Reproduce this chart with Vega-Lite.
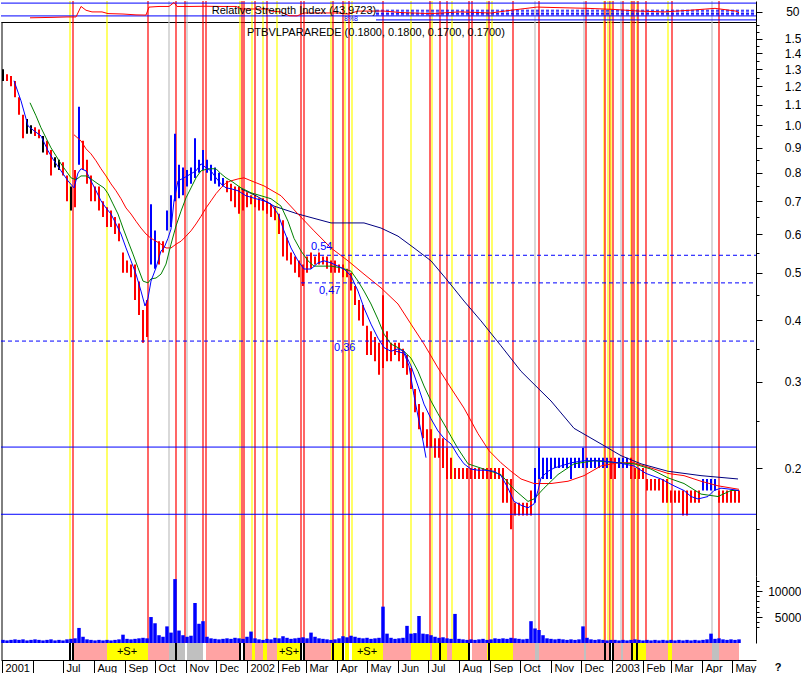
{
"$schema":"https://vega.github.io/schema/vega-lite/v6.json",
"padding":0,
"background":"white",
"spacing":0,
"bounds":"flush",
"resolve":{"scale":{"color":"independent","strokeDash":"independent"}},
"config":{"view":{"stroke":null},"font":"Liberation Sans","axis":{"labelFont":"Liberation Sans","labelColor":"black","domainColor":"black","tickColor":"black","grid":false,"title":null}},
"datasets":{
"px":[
{"d":"2001-05-02","h":1.30,"l":1.23,"c":"n","v":600},{"d":"2001-05-06","h":1.27,"l":1.23,"c":"d","v":500},{"d":"2001-05-10","h":1.26,"l":1.20,"c":"d","v":600},{"d":"2001-05-14","h":1.23,"l":1.14,"c":"d","v":700},{"d":"2001-05-18","h":1.14,"l":1.05,"c":"d","v":600},{"d":"2001-05-22","h":1.05,"l":0.94,"c":"d","v":700},{"d":"2001-05-26","h":1.03,"l":0.96,"c":"n","v":500},{"d":"2001-05-30","h":1.00,"l":0.96,"c":"n","v":600},{"d":"2001-06-03","h":0.99,"l":0.95,"c":"d","v":700},{"d":"2001-06-07","h":0.98,"l":0.94,"c":"d","v":600},{"d":"2001-06-11","h":0.95,"l":0.88,"c":"n","v":500},{"d":"2001-06-15","h":0.93,"l":0.87,"c":"d","v":600},{"d":"2001-06-19","h":0.89,"l":0.79,"c":"d","v":700},{"d":"2001-06-23","h":0.86,"l":0.82,"c":"n","v":500},{"d":"2001-06-27","h":0.85,"l":0.81,"c":"n","v":600},{"d":"2001-07-01","h":0.84,"l":0.79,"c":"d","v":500},{"d":"2001-07-05","h":0.79,"l":0.70,"c":"d","v":700},{"d":"2001-07-09","h":0.75,"l":0.67,"c":"n","v":800},{"d":"2001-07-13","h":0.81,"l":0.68,"c":"d","v":900},{"d":"2001-07-17","h":1.09,"l":0.83,"c":"u","v":2900},{"d":"2001-07-21","h":0.93,"l":0.81,"c":"d","v":1200},{"d":"2001-07-25","h":0.85,"l":0.76,"c":"d","v":700},{"d":"2001-07-29","h":0.79,"l":0.70,"c":"d","v":600},{"d":"2001-08-02","h":0.75,"l":0.70,"c":"d","v":500},{"d":"2001-08-06","h":0.75,"l":0.67,"c":"d","v":600},{"d":"2001-08-10","h":0.70,"l":0.65,"c":"d","v":500},{"d":"2001-08-14","h":0.68,"l":0.62,"c":"d","v":600},{"d":"2001-08-18","h":0.67,"l":0.62,"c":"d","v":500},{"d":"2001-08-22","h":0.65,"l":0.60,"c":"d","v":600},{"d":"2001-08-26","h":0.63,"l":0.58,"c":"d","v":700},{"d":"2001-08-30","h":0.55,"l":0.50,"c":"d","v":1600},{"d":"2001-09-03","h":0.53,"l":0.50,"c":"d","v":800},{"d":"2001-09-07","h":0.52,"l":0.49,"c":"d","v":700},{"d":"2001-09-11","h":0.52,"l":0.44,"c":"d","v":800},{"d":"2001-09-15","h":0.48,"l":0.41,"c":"d","v":900},{"d":"2001-09-19","h":0.42,"l":0.36,"c":"d","v":1000},{"d":"2001-09-23","h":0.44,"l":0.37,"c":"d","v":900},{"d":"2001-09-27","h":0.69,"l":0.52,"c":"u","v":5000},{"d":"2001-10-01","h":0.61,"l":0.51,"c":"u","v":3800},{"d":"2001-10-05","h":0.58,"l":0.52,"c":"d","v":1500},{"d":"2001-10-09","h":0.58,"l":0.55,"c":"d","v":1200},{"d":"2001-10-13","h":0.67,"l":0.61,"c":"u","v":3200},{"d":"2001-10-17","h":0.72,"l":0.62,"c":"u","v":2000},{"d":"2001-10-21","h":0.96,"l":0.70,"c":"u","v":12300},{"d":"2001-10-25","h":0.83,"l":0.71,"c":"u","v":2400},{"d":"2001-10-29","h":0.82,"l":0.72,"c":"u","v":1500},{"d":"2001-11-02","h":0.81,"l":0.75,"c":"u","v":1200},{"d":"2001-11-06","h":0.82,"l":0.76,"c":"u","v":1400},{"d":"2001-11-10","h":0.94,"l":0.78,"c":"u","v":7700},{"d":"2001-11-14","h":0.85,"l":0.80,"c":"u","v":3700},{"d":"2001-11-18","h":0.89,"l":0.81,"c":"u","v":4200},{"d":"2001-11-22","h":0.85,"l":0.80,"c":"u","v":1200},{"d":"2001-11-26","h":0.83,"l":0.77,"c":"u","v":900},{"d":"2001-11-30","h":0.82,"l":0.76,"c":"u","v":800},{"d":"2001-12-04","h":0.80,"l":0.75,"c":"u","v":700},{"d":"2001-12-08","h":0.78,"l":0.75,"c":"u","v":800},{"d":"2001-12-12","h":0.77,"l":0.73,"c":"d","v":900},{"d":"2001-12-16","h":0.76,"l":0.70,"c":"d","v":800},{"d":"2001-12-20","h":0.75,"l":0.68,"c":"d","v":1000},{"d":"2001-12-24","h":0.75,"l":0.66,"c":"d","v":900},{"d":"2001-12-28","h":0.74,"l":0.67,"c":"d","v":800},{"d":"2002-01-01","h":0.73,"l":0.68,"c":"d","v":1200},{"d":"2002-01-05","h":0.72,"l":0.69,"c":"d","v":2200},{"d":"2002-01-09","h":0.72,"l":0.68,"c":"d","v":900},{"d":"2002-01-13","h":0.71,"l":0.67,"c":"d","v":700},{"d":"2002-01-17","h":0.71,"l":0.67,"c":"d","v":600},{"d":"2002-01-21","h":0.70,"l":0.66,"c":"d","v":800},{"d":"2002-01-25","h":0.69,"l":0.65,"c":"d","v":700},{"d":"2002-01-29","h":0.68,"l":0.64,"c":"d","v":1000},{"d":"2002-02-02","h":0.66,"l":0.60,"c":"d","v":900},{"d":"2002-02-06","h":0.64,"l":0.54,"c":"d","v":1300},{"d":"2002-02-10","h":0.59,"l":0.53,"c":"d","v":1000},{"d":"2002-02-14","h":0.55,"l":0.52,"c":"d","v":800},{"d":"2002-02-18","h":0.54,"l":0.50,"c":"d","v":900},{"d":"2002-02-22","h":0.53,"l":0.49,"c":"d","v":1000},{"d":"2002-02-26","h":0.52,"l":0.47,"c":"d","v":1100},{"d":"2002-03-02","h":0.54,"l":0.50,"c":"d","v":900},{"d":"2002-03-06","h":0.55,"l":0.51,"c":"d","v":2000},{"d":"2002-03-10","h":0.54,"l":0.52,"c":"d","v":1200},{"d":"2002-03-14","h":0.55,"l":0.52,"c":"d","v":900},{"d":"2002-03-18","h":0.54,"l":0.52,"c":"d","v":800},{"d":"2002-03-22","h":0.54,"l":0.51,"c":"d","v":700},{"d":"2002-03-26","h":0.53,"l":0.50,"c":"d","v":600},{"d":"2002-03-30","h":0.53,"l":0.50,"c":"d","v":700},{"d":"2002-04-03","h":0.52,"l":0.50,"c":"d","v":900},{"d":"2002-04-07","h":0.52,"l":0.49,"c":"d","v":1300},{"d":"2002-04-11","h":0.51,"l":0.49,"c":"d","v":1100},{"d":"2002-04-15","h":0.50,"l":0.46,"c":"d","v":1400},{"d":"2002-04-19","h":0.47,"l":0.43,"c":"d","v":1200},{"d":"2002-04-23","h":0.44,"l":0.40,"c":"d","v":1000},{"d":"2002-04-27","h":0.43,"l":0.39,"c":"d","v":900},{"d":"2002-05-01","h":0.39,"l":0.34,"c":"d","v":1000},{"d":"2002-05-05","h":0.38,"l":0.34,"c":"d","v":800},{"d":"2002-05-09","h":0.37,"l":0.33,"c":"d","v":900},{"d":"2002-05-13","h":0.36,"l":0.31,"c":"d","v":1000},{"d":"2002-05-17","h":0.45,"l":0.32,"c":"d","v":7000},{"d":"2002-05-21","h":0.38,"l":0.33,"c":"d","v":1800},{"d":"2002-05-25","h":0.36,"l":0.33,"c":"d","v":1000},{"d":"2002-05-29","h":0.36,"l":0.34,"c":"d","v":800},{"d":"2002-06-02","h":0.36,"l":0.33,"c":"d","v":900},{"d":"2002-06-06","h":0.35,"l":0.32,"c":"d","v":1000},{"d":"2002-06-10","h":0.34,"l":0.31,"c":"d","v":3300},{"d":"2002-06-14","h":0.32,"l":0.29,"c":"d","v":1800},{"d":"2002-06-18","h":0.29,"l":0.26,"c":"d","v":1900},{"d":"2002-06-22","h":0.27,"l":0.24,"c":"d","v":5200},{"d":"2002-06-26","h":0.26,"l":0.23,"c":"d","v":1800},{"d":"2002-06-30","h":0.24,"l":0.22,"c":"d","v":1700},{"d":"2002-07-04","h":0.24,"l":0.22,"c":"d","v":1500},{"d":"2002-07-08","h":0.23,"l":0.21,"c":"d","v":1200},{"d":"2002-07-12","h":0.23,"l":0.21,"c":"d","v":1000},{"d":"2002-07-16","h":0.23,"l":0.20,"c":"d","v":1100},{"d":"2002-07-20","h":0.22,"l":0.19,"c":"d","v":900},{"d":"2002-07-24","h":0.21,"l":0.19,"c":"d","v":800},{"d":"2002-07-28","h":0.20,"l":0.19,"c":"d","v":5600},{"d":"2002-08-01","h":0.20,"l":0.19,"c":"d","v":800},{"d":"2002-08-05","h":0.20,"l":0.19,"c":"d","v":700},{"d":"2002-08-09","h":0.20,"l":0.19,"c":"d","v":600},{"d":"2002-08-13","h":0.20,"l":0.19,"c":"d","v":700},{"d":"2002-08-17","h":0.20,"l":0.19,"c":"d","v":600},{"d":"2002-08-21","h":0.20,"l":0.19,"c":"d","v":700},{"d":"2002-08-25","h":0.20,"l":0.19,"c":"d","v":800},{"d":"2002-08-29","h":0.20,"l":0.19,"c":"d","v":600},{"d":"2002-09-02","h":0.20,"l":0.19,"c":"d","v":700},{"d":"2002-09-06","h":0.20,"l":0.19,"c":"d","v":900},{"d":"2002-09-10","h":0.20,"l":0.19,"c":"d","v":800},{"d":"2002-09-14","h":0.20,"l":0.17,"c":"d","v":900},{"d":"2002-09-18","h":0.19,"l":0.17,"c":"d","v":800},{"d":"2002-09-22","h":0.19,"l":0.15,"c":"d","v":1000},{"d":"2002-09-26","h":0.17,"l":0.16,"c":"d","v":900},{"d":"2002-09-30","h":0.17,"l":0.16,"c":"d","v":800},{"d":"2002-10-04","h":0.17,"l":0.16,"c":"d","v":700},{"d":"2002-10-08","h":0.17,"l":0.16,"c":"d","v":800},{"d":"2002-10-12","h":0.18,"l":0.16,"c":"d","v":4200},{"d":"2002-10-16","h":0.20,"l":0.17,"c":"u","v":2800},{"d":"2002-10-20","h":0.22,"l":0.19,"c":"u","v":2500},{"d":"2002-10-24","h":0.21,"l":0.19,"c":"u","v":1500},{"d":"2002-10-28","h":0.21,"l":0.19,"c":"u","v":900},{"d":"2002-11-01","h":0.21,"l":0.19,"c":"u","v":800},{"d":"2002-11-05","h":0.21,"l":0.20,"c":"u","v":700},{"d":"2002-11-09","h":0.21,"l":0.20,"c":"u","v":800},{"d":"2002-11-13","h":0.21,"l":0.20,"c":"u","v":700},{"d":"2002-11-17","h":0.21,"l":0.20,"c":"u","v":600},{"d":"2002-11-21","h":0.21,"l":0.19,"c":"u","v":700},{"d":"2002-11-25","h":0.21,"l":0.20,"c":"u","v":600},{"d":"2002-11-29","h":0.21,"l":0.20,"c":"u","v":700},{"d":"2002-12-03","h":0.22,"l":0.20,"c":"u","v":3200},{"d":"2002-12-07","h":0.21,"l":0.20,"c":"u","v":1000},{"d":"2002-12-11","h":0.21,"l":0.20,"c":"u","v":700},{"d":"2002-12-15","h":0.21,"l":0.20,"c":"u","v":600},{"d":"2002-12-19","h":0.21,"l":0.20,"c":"u","v":700},{"d":"2002-12-23","h":0.21,"l":0.20,"c":"u","v":600},{"d":"2002-12-27","h":0.21,"l":0.20,"c":"u","v":500},{"d":"2002-12-31","h":0.21,"l":0.19,"c":"d","v":600},{"d":"2003-01-04","h":0.21,"l":0.19,"c":"d","v":600},{"d":"2003-01-08","h":0.21,"l":0.20,"c":"u","v":500},{"d":"2003-01-12","h":0.21,"l":0.20,"c":"u","v":600},{"d":"2003-01-16","h":0.21,"l":0.20,"c":"u","v":500},{"d":"2003-01-20","h":0.21,"l":0.19,"c":"d","v":600},{"d":"2003-01-24","h":0.20,"l":0.19,"c":"d","v":700},{"d":"2003-01-28","h":0.20,"l":0.19,"c":"d","v":600},{"d":"2003-02-01","h":0.20,"l":0.19,"c":"d","v":500},{"d":"2003-02-05","h":0.19,"l":0.18,"c":"d","v":600},{"d":"2003-02-09","h":0.19,"l":0.18,"c":"d","v":500},{"d":"2003-02-13","h":0.19,"l":0.18,"c":"d","v":600},{"d":"2003-02-17","h":0.19,"l":0.18,"c":"d","v":500},{"d":"2003-02-21","h":0.19,"l":0.17,"c":"d","v":600},{"d":"2003-02-25","h":0.19,"l":0.17,"c":"d","v":500},{"d":"2003-03-01","h":0.18,"l":0.17,"c":"d","v":600},{"d":"2003-03-05","h":0.18,"l":0.17,"c":"d","v":500},{"d":"2003-03-09","h":0.18,"l":0.17,"c":"d","v":600},{"d":"2003-03-13","h":0.18,"l":0.16,"c":"d","v":500},{"d":"2003-03-17","h":0.18,"l":0.16,"c":"d","v":600},{"d":"2003-03-21","h":0.18,"l":0.17,"c":"d","v":500},{"d":"2003-03-25","h":0.18,"l":0.17,"c":"d","v":600},{"d":"2003-03-29","h":0.18,"l":0.17,"c":"d","v":500},{"d":"2003-04-02","h":0.19,"l":0.18,"c":"u","v":600},{"d":"2003-04-06","h":0.19,"l":0.18,"c":"u","v":700},{"d":"2003-04-10","h":0.19,"l":0.18,"c":"u","v":1800},{"d":"2003-04-14","h":0.19,"l":0.18,"c":"u","v":800},{"d":"2003-04-18","h":0.18,"l":0.17,"c":"d","v":900},{"d":"2003-04-22","h":0.18,"l":0.17,"c":"d","v":700},{"d":"2003-04-26","h":0.18,"l":0.17,"c":"d","v":600},{"d":"2003-04-30","h":0.18,"l":0.17,"c":"d","v":700},{"d":"2003-05-04","h":0.18,"l":0.17,"c":"d","v":600},{"d":"2003-05-08","h":0.18,"l":0.17,"c":"d","v":700}
],
"ma":[
{"d":"2001-12-26","p":0.742,"s":"MA200"},{"d":"2002-01-10","p":0.718,"s":"MA200"},{"d":"2002-01-28","p":0.684,"s":"MA200"},{"d":"2002-02-21","p":0.659,"s":"MA200"},{"d":"2002-03-26","p":0.632,"s":"MA200"},{"d":"2002-04-28","p":0.632,"s":"MA200"},{"d":"2002-05-15","p":0.617,"s":"MA200"},{"d":"2002-06-01","p":0.594,"s":"MA200"},{"d":"2002-06-17","p":0.562,"s":"MA200"},{"d":"2002-07-04","p":0.529,"s":"MA200"},{"d":"2002-07-21","p":0.481,"s":"MA200"},{"d":"2002-08-06","p":0.438,"s":"MA200"},{"d":"2002-08-23","p":0.399,"s":"MA200"},{"d":"2002-09-12","p":0.355,"s":"MA200"},{"d":"2002-10-02","p":0.315,"s":"MA200"},{"d":"2002-10-22","p":0.287,"s":"MA200"},{"d":"2002-11-01","p":0.274,"s":"MA200"},{"d":"2002-11-24","p":0.241,"s":"MA200"},{"d":"2002-12-21","p":0.224,"s":"MA200"},{"d":"2003-01-10","p":0.212,"s":"MA200"},{"d":"2003-01-30","p":0.204,"s":"MA200"},{"d":"2003-02-26","p":0.197,"s":"MA200"},{"d":"2003-03-31","p":0.193,"s":"MA200"},{"d":"2003-05-07","p":0.190,"s":"MA200"},
{"d":"2001-07-12","p":0.956,"s":"MA50"},{"d":"2001-07-19","p":0.929,"s":"MA50"},{"d":"2001-07-24","p":0.895,"s":"MA50"},{"d":"2001-07-29","p":0.874,"s":"MA50"},{"d":"2001-08-03","p":0.846,"s":"MA50"},{"d":"2001-08-08","p":0.815,"s":"MA50"},{"d":"2001-08-13","p":0.788,"s":"MA50"},{"d":"2001-08-18","p":0.759,"s":"MA50"},{"d":"2001-08-23","p":0.735,"s":"MA50"},{"d":"2001-08-28","p":0.708,"s":"MA50"},{"d":"2001-09-02","p":0.678,"s":"MA50"},{"d":"2001-09-07","p":0.659,"s":"MA50"},{"d":"2001-09-12","p":0.637,"s":"MA50"},{"d":"2001-09-17","p":0.617,"s":"MA50"},{"d":"2001-09-22","p":0.600,"s":"MA50"},{"d":"2001-09-27","p":0.588,"s":"MA50"},{"d":"2001-10-02","p":0.580,"s":"MA50"},{"d":"2001-10-07","p":0.572,"s":"MA50"},{"d":"2001-10-12","p":0.562,"s":"MA50"},{"d":"2001-10-17","p":0.562,"s":"MA50"},{"d":"2001-10-22","p":0.572,"s":"MA50"},{"d":"2001-10-27","p":0.580,"s":"MA50"},{"d":"2001-11-01","p":0.594,"s":"MA50"},{"d":"2001-11-06","p":0.609,"s":"MA50"},{"d":"2001-11-11","p":0.629,"s":"MA50"},{"d":"2001-11-16","p":0.652,"s":"MA50"},{"d":"2001-11-21","p":0.678,"s":"MA50"},{"d":"2001-11-26","p":0.701,"s":"MA50"},{"d":"2001-12-01","p":0.725,"s":"MA50"},{"d":"2001-12-06","p":0.745,"s":"MA50"},{"d":"2001-12-11","p":0.763,"s":"MA50"},{"d":"2001-12-16","p":0.770,"s":"MA50"},{"d":"2001-12-23","p":0.777,"s":"MA50"},{"d":"2001-12-29","p":0.781,"s":"MA50"},{"d":"2002-01-08","p":0.766,"s":"MA50"},{"d":"2002-01-18","p":0.752,"s":"MA50"},{"d":"2002-02-04","p":0.718,"s":"MA50"},{"d":"2002-02-21","p":0.659,"s":"MA50"},{"d":"2002-03-09","p":0.609,"s":"MA50"},{"d":"2002-03-26","p":0.562,"s":"MA50"},{"d":"2002-04-12","p":0.529,"s":"MA50"},{"d":"2002-04-28","p":0.497,"s":"MA50"},{"d":"2002-05-15","p":0.466,"s":"MA50"},{"d":"2002-06-01","p":0.432,"s":"MA50"},{"d":"2002-06-14","p":0.393,"s":"MA50"},{"d":"2002-06-27","p":0.358,"s":"MA50"},{"d":"2002-07-11","p":0.320,"s":"MA50"},{"d":"2002-07-24","p":0.291,"s":"MA50"},{"d":"2002-08-06","p":0.265,"s":"MA50"},{"d":"2002-08-20","p":0.235,"s":"MA50"},{"d":"2002-08-31","p":0.217,"s":"MA50"},{"d":"2002-09-12","p":0.205,"s":"MA50"},{"d":"2002-09-22","p":0.197,"s":"MA50"},{"d":"2002-10-02","p":0.190,"s":"MA50"},{"d":"2002-10-15","p":0.186,"s":"MA50"},{"d":"2002-11-01","p":0.186,"s":"MA50"},{"d":"2002-11-18","p":0.188,"s":"MA50"},{"d":"2002-12-04","p":0.193,"s":"MA50"},{"d":"2002-12-21","p":0.202,"s":"MA50"},{"d":"2003-01-07","p":0.205,"s":"MA50"},{"d":"2003-01-23","p":0.205,"s":"MA50"},{"d":"2003-02-09","p":0.200,"s":"MA50"},{"d":"2003-02-26","p":0.195,"s":"MA50"},{"d":"2003-03-14","p":0.193,"s":"MA50"},{"d":"2003-03-31","p":0.188,"s":"MA50"},{"d":"2003-04-17","p":0.184,"s":"MA50"},{"d":"2003-05-08","p":0.181,"s":"MA50"},
{"d":"2001-05-29","p":1.111,"s":"MA21"},{"d":"2001-06-04","p":1.045,"s":"MA21"},{"d":"2001-06-09","p":0.988,"s":"MA21"},{"d":"2001-06-14","p":0.942,"s":"MA21"},{"d":"2001-06-19","p":0.899,"s":"MA21"},{"d":"2001-06-24","p":0.866,"s":"MA21"},{"d":"2001-06-29","p":0.834,"s":"MA21"},{"d":"2001-07-04","p":0.807,"s":"MA21"},{"d":"2001-07-09","p":0.781,"s":"MA21"},{"d":"2001-07-14","p":0.774,"s":"MA21"},{"d":"2001-07-19","p":0.788,"s":"MA21"},{"d":"2001-07-24","p":0.788,"s":"MA21"},{"d":"2001-07-29","p":0.777,"s":"MA21"},{"d":"2001-08-05","p":0.759,"s":"MA21"},{"d":"2001-08-11","p":0.745,"s":"MA21"},{"d":"2001-08-15","p":0.725,"s":"MA21"},{"d":"2001-08-20","p":0.691,"s":"MA21"},{"d":"2001-08-25","p":0.659,"s":"MA21"},{"d":"2001-08-30","p":0.617,"s":"MA21"},{"d":"2001-09-04","p":0.580,"s":"MA21"},{"d":"2001-09-09","p":0.546,"s":"MA21"},{"d":"2001-09-14","p":0.512,"s":"MA21"},{"d":"2001-09-19","p":0.481,"s":"MA21"},{"d":"2001-09-24","p":0.477,"s":"MA21"},{"d":"2001-09-27","p":0.486,"s":"MA21"},{"d":"2001-10-02","p":0.488,"s":"MA21"},{"d":"2001-10-07","p":0.497,"s":"MA21"},{"d":"2001-10-12","p":0.521,"s":"MA21"},{"d":"2001-10-17","p":0.572,"s":"MA21"},{"d":"2001-10-22","p":0.623,"s":"MA21"},{"d":"2001-10-27","p":0.668,"s":"MA21"},{"d":"2001-11-01","p":0.711,"s":"MA21"},{"d":"2001-11-06","p":0.745,"s":"MA21"},{"d":"2001-11-11","p":0.781,"s":"MA21"},{"d":"2001-11-16","p":0.807,"s":"MA21"},{"d":"2001-11-23","p":0.815,"s":"MA21"},{"d":"2001-12-01","p":0.815,"s":"MA21"},{"d":"2001-12-06","p":0.796,"s":"MA21"},{"d":"2001-12-11","p":0.781,"s":"MA21"},{"d":"2001-12-16","p":0.770,"s":"MA21"},{"d":"2001-12-26","p":0.745,"s":"MA21"},{"d":"2002-01-05","p":0.728,"s":"MA21"},{"d":"2002-01-15","p":0.718,"s":"MA21"},{"d":"2002-01-25","p":0.708,"s":"MA21"},{"d":"2002-02-04","p":0.684,"s":"MA21"},{"d":"2002-02-11","p":0.637,"s":"MA21"},{"d":"2002-02-17","p":0.588,"s":"MA21"},{"d":"2002-02-24","p":0.554,"s":"MA21"},{"d":"2002-03-03","p":0.529,"s":"MA21"},{"d":"2002-03-09","p":0.516,"s":"MA21"},{"d":"2002-03-16","p":0.516,"s":"MA21"},{"d":"2002-03-26","p":0.516,"s":"MA21"},{"d":"2002-04-05","p":0.512,"s":"MA21"},{"d":"2002-04-15","p":0.504,"s":"MA21"},{"d":"2002-04-22","p":0.481,"s":"MA21"},{"d":"2002-04-28","p":0.459,"s":"MA21"},{"d":"2002-05-05","p":0.432,"s":"MA21"},{"d":"2002-05-12","p":0.402,"s":"MA21"},{"d":"2002-05-18","p":0.375,"s":"MA21"},{"d":"2002-05-25","p":0.358,"s":"MA21"},{"d":"2002-06-01","p":0.352,"s":"MA21"},{"d":"2002-06-07","p":0.346,"s":"MA21"},{"d":"2002-06-14","p":0.335,"s":"MA21"},{"d":"2002-06-21","p":0.315,"s":"MA21"},{"d":"2002-06-27","p":0.294,"s":"MA21"},{"d":"2002-07-04","p":0.274,"s":"MA21"},{"d":"2002-07-11","p":0.258,"s":"MA21"},{"d":"2002-07-17","p":0.246,"s":"MA21"},{"d":"2002-07-24","p":0.232,"s":"MA21"},{"d":"2002-07-31","p":0.219,"s":"MA21"},{"d":"2002-08-10","p":0.204,"s":"MA21"},{"d":"2002-08-26","p":0.199,"s":"MA21"},{"d":"2002-09-12","p":0.194,"s":"MA21"},{"d":"2002-09-25","p":0.181,"s":"MA21"},{"d":"2002-10-09","p":0.171,"s":"MA21"},{"d":"2002-10-15","p":0.173,"s":"MA21"},{"d":"2002-10-25","p":0.182,"s":"MA21"},{"d":"2002-11-08","p":0.194,"s":"MA21"},{"d":"2002-11-24","p":0.204,"s":"MA21"},{"d":"2002-12-14","p":0.207,"s":"MA21"},{"d":"2003-01-07","p":0.205,"s":"MA21"},{"d":"2003-01-23","p":0.204,"s":"MA21"},{"d":"2003-02-09","p":0.199,"s":"MA21"},{"d":"2003-02-26","p":0.191,"s":"MA21"},{"d":"2003-03-14","p":0.186,"s":"MA21"},{"d":"2003-03-31","p":0.177,"s":"MA21"},{"d":"2003-04-17","p":0.175,"s":"MA21"},{"d":"2003-04-30","p":0.180,"s":"MA21"},{"d":"2003-05-08","p":0.180,"s":"MA21"},
{"d":"2001-05-13","p":1.232,"s":"MA10"},{"d":"2001-05-20","p":1.121,"s":"MA10"},{"d":"2001-05-27","p":0.997,"s":"MA10"},{"d":"2001-06-02","p":0.974,"s":"MA10"},{"d":"2001-06-09","p":0.951,"s":"MA10"},{"d":"2001-06-16","p":0.887,"s":"MA10"},{"d":"2001-06-22","p":0.846,"s":"MA10"},{"d":"2001-06-29","p":0.807,"s":"MA10"},{"d":"2001-07-06","p":0.770,"s":"MA10"},{"d":"2001-07-12","p":0.745,"s":"MA10"},{"d":"2001-07-16","p":0.799,"s":"MA10"},{"d":"2001-07-19","p":0.815,"s":"MA10"},{"d":"2001-07-24","p":0.807,"s":"MA10"},{"d":"2001-07-29","p":0.770,"s":"MA10"},{"d":"2001-08-03","p":0.735,"s":"MA10"},{"d":"2001-08-08","p":0.701,"s":"MA10"},{"d":"2001-08-13","p":0.678,"s":"MA10"},{"d":"2001-08-18","p":0.659,"s":"MA10"},{"d":"2001-08-23","p":0.629,"s":"MA10"},{"d":"2001-08-28","p":0.600,"s":"MA10"},{"d":"2001-09-02","p":0.562,"s":"MA10"},{"d":"2001-09-07","p":0.529,"s":"MA10"},{"d":"2001-09-12","p":0.497,"s":"MA10"},{"d":"2001-09-17","p":0.459,"s":"MA10"},{"d":"2001-09-21","p":0.428,"s":"MA10"},{"d":"2001-09-24","p":0.444,"s":"MA10"},{"d":"2001-09-27","p":0.481,"s":"MA10"},{"d":"2001-10-02","p":0.512,"s":"MA10"},{"d":"2001-10-07","p":0.554,"s":"MA10"},{"d":"2001-10-10","p":0.562,"s":"MA10"},{"d":"2001-10-14","p":0.588,"s":"MA10"},{"d":"2001-10-17","p":0.614,"s":"MA10"},{"d":"2001-10-20","p":0.701,"s":"MA10"},{"d":"2001-10-24","p":0.770,"s":"MA10"},{"d":"2001-10-30","p":0.781,"s":"MA10"},{"d":"2001-11-06","p":0.796,"s":"MA10"},{"d":"2001-11-11","p":0.807,"s":"MA10"},{"d":"2001-11-16","p":0.834,"s":"MA10"},{"d":"2001-11-21","p":0.819,"s":"MA10"},{"d":"2001-11-26","p":0.807,"s":"MA10"},{"d":"2001-12-01","p":0.781,"s":"MA10"},{"d":"2001-12-06","p":0.759,"s":"MA10"},{"d":"2001-12-11","p":0.745,"s":"MA10"},{"d":"2001-12-16","p":0.742,"s":"MA10"},{"d":"2001-12-23","p":0.735,"s":"MA10"},{"d":"2001-12-31","p":0.718,"s":"MA10"},{"d":"2002-01-10","p":0.708,"s":"MA10"},{"d":"2002-01-18","p":0.701,"s":"MA10"},{"d":"2002-01-25","p":0.691,"s":"MA10"},{"d":"2002-02-01","p":0.659,"s":"MA10"},{"d":"2002-02-07","p":0.609,"s":"MA10"},{"d":"2002-02-14","p":0.562,"s":"MA10"},{"d":"2002-02-21","p":0.529,"s":"MA10"},{"d":"2002-02-27","p":0.509,"s":"MA10"},{"d":"2002-03-06","p":0.509,"s":"MA10"},{"d":"2002-03-13","p":0.524,"s":"MA10"},{"d":"2002-03-19","p":0.529,"s":"MA10"},{"d":"2002-03-26","p":0.524,"s":"MA10"},{"d":"2002-04-02","p":0.516,"s":"MA10"},{"d":"2002-04-08","p":0.509,"s":"MA10"},{"d":"2002-04-15","p":0.493,"s":"MA10"},{"d":"2002-04-22","p":0.459,"s":"MA10"},{"d":"2002-04-28","p":0.424,"s":"MA10"},{"d":"2002-05-05","p":0.393,"s":"MA10"},{"d":"2002-05-12","p":0.368,"s":"MA10"},{"d":"2002-05-18","p":0.352,"s":"MA10"},{"d":"2002-05-25","p":0.346,"s":"MA10"},{"d":"2002-06-01","p":0.350,"s":"MA10"},{"d":"2002-06-07","p":0.346,"s":"MA10"},{"d":"2002-06-14","p":0.323,"s":"MA10"},{"d":"2002-06-21","p":0.294,"s":"MA10"},{"d":"2002-06-27","p":0.270,"s":"MA10"},{"d":"2002-07-04","p":0.252,"s":"MA10"},{"d":"2002-07-11","p":0.238,"s":"MA10"},{"d":"2002-07-17","p":0.230,"s":"MA10"},{"d":"2002-07-24","p":0.224,"s":"MA10"},{"d":"2002-07-31","p":0.212,"s":"MA10"},{"d":"2002-08-06","p":0.204,"s":"MA10"},{"d":"2002-08-13","p":0.199,"s":"MA10"},{"d":"2002-08-20","p":0.198,"s":"MA10"},{"d":"2002-08-26","p":0.198,"s":"MA10"},{"d":"2002-09-05","p":0.197,"s":"MA10"},{"d":"2002-09-12","p":0.193,"s":"MA10"},{"d":"2002-09-19","p":0.182,"s":"MA10"},{"d":"2002-09-25","p":0.171,"s":"MA10"},{"d":"2002-10-02","p":0.168,"s":"MA10"},{"d":"2002-10-09","p":0.166,"s":"MA10"},{"d":"2002-10-15","p":0.169,"s":"MA10"},{"d":"2002-10-19","p":0.180,"s":"MA10"},{"d":"2002-10-22","p":0.191,"s":"MA10"},{"d":"2002-10-29","p":0.197,"s":"MA10"},{"d":"2002-11-04","p":0.200,"s":"MA10"},{"d":"2002-11-11","p":0.202,"s":"MA10"},{"d":"2002-11-21","p":0.205,"s":"MA10"},{"d":"2002-12-04","p":0.207,"s":"MA10"},{"d":"2002-12-21","p":0.207,"s":"MA10"},{"d":"2003-01-07","p":0.205,"s":"MA10"},{"d":"2003-01-23","p":0.202,"s":"MA10"},{"d":"2003-02-04","p":0.195,"s":"MA10"},{"d":"2003-02-19","p":0.190,"s":"MA10"},{"d":"2003-03-04","p":0.184,"s":"MA10"},{"d":"2003-03-14","p":0.180,"s":"MA10"},{"d":"2003-03-21","p":0.175,"s":"MA10"},{"d":"2003-03-28","p":0.173,"s":"MA10"},{"d":"2003-04-07","p":0.175,"s":"MA10"},{"d":"2003-04-13","p":0.180,"s":"MA10"},{"d":"2003-04-20","p":0.182,"s":"MA10"},{"d":"2003-04-30","p":0.181,"s":"MA10"},{"d":"2003-05-08","p":0.180,"s":"MA10"},
{"d":"2002-05-30","p":0.346,"s":"MA5"},{"d":"2002-06-07","p":0.343,"s":"MA5"},{"d":"2002-06-12","p":0.323,"s":"MA5"},{"d":"2002-06-17","p":0.281,"s":"MA5"},{"d":"2002-06-22","p":0.249,"s":"MA5"},{"d":"2002-06-26","p":0.227,"s":"MA5"},{"d":"2002-06-29","p":0.210,"s":"MA5"}
],
"rsi":[
{"d":"2001-05-29","v":20},{"d":"2001-06-20","v":22},{"d":"2001-07-05","v":24},{"d":"2001-07-14","v":24},{"d":"2001-07-19","v":74},{"d":"2001-07-24","v":56},{"d":"2001-07-30","v":48},{"d":"2001-08-09","v":48},{"d":"2001-08-15","v":40},{"d":"2001-08-30","v":38},{"d":"2001-09-12","v":34},{"d":"2001-09-22","v":33},{"d":"2001-09-25","v":71},{"d":"2001-10-05","v":74},{"d":"2001-10-15","v":74},{"d":"2001-10-20","v":93},{"d":"2001-10-23","v":74},{"d":"2001-11-05","v":74},{"d":"2001-11-20","v":75},{"d":"2001-12-05","v":74},{"d":"2001-12-21","v":74},{"d":"2001-12-27","v":62},{"d":"2002-01-20","v":62},{"d":"2002-01-25","v":52},{"d":"2002-02-04","v":48},{"d":"2002-02-12","v":30},{"d":"2002-02-20","v":29},{"d":"2002-02-27","v":43},{"d":"2002-03-16","v":43},{"d":"2002-04-02","v":43},{"d":"2002-04-12","v":38},{"d":"2002-04-22","v":52},{"d":"2002-05-05","v":52},{"d":"2002-05-18","v":52},{"d":"2002-06-04","v":45},{"d":"2002-07-04","v":40},{"d":"2002-08-02","v":48},{"d":"2002-09-02","v":43},{"d":"2002-09-22","v":56},{"d":"2002-10-18","v":71},{"d":"2002-11-12","v":68},{"d":"2002-12-08","v":65},{"d":"2003-01-02","v":60},{"d":"2003-01-28","v":52},{"d":"2003-02-22","v":48},{"d":"2003-03-20","v":56},{"d":"2003-04-14","v":65},{"d":"2003-05-05","v":52},{"d":"2003-05-08","v":44}
],
"sig":[
{"d":"2001-07-08","c":"buy"},{"d":"2001-07-11","c":"sell"},{"d":"2001-08-14","c":"buy"},{"d":"2001-09-24","c":"sell"},{"d":"2001-10-15","c":"exit"},{"d":"2001-10-22","c":"sell"},{"d":"2001-10-31","c":"sell"},{"d":"2001-11-02","c":"exit"},{"d":"2001-11-18","c":"sell"},{"d":"2001-11-21","c":"sell"},{"d":"2001-12-25","c":"buy"},{"d":"2001-12-27","c":"sell"},{"d":"2001-12-29","c":"sell"},{"d":"2002-01-06","c":"buy"},{"d":"2002-01-09","c":"sell"},{"d":"2002-01-17","c":"buy"},{"d":"2002-01-21","c":"sell"},{"d":"2002-01-31","c":"buy"},{"d":"2002-02-24","c":"sell"},{"d":"2002-02-27","c":"sell"},{"d":"2002-03-26","c":"buy"},{"d":"2002-03-28","c":"sell"},{"d":"2002-04-07","c":"sell"},{"d":"2002-04-09","c":"buy"},{"d":"2002-04-13","c":"sell"},{"d":"2002-04-16","c":"buy"},{"d":"2002-05-17","c":"sell"},{"d":"2002-06-14","c":"buy"},{"d":"2002-07-03","c":"sell"},{"d":"2002-07-05","c":"buy"},{"d":"2002-07-13","c":"sell"},{"d":"2002-07-20","c":"sell"},{"d":"2002-07-25","c":"buy"},{"d":"2002-08-11","c":"sell"},{"d":"2002-08-14","c":"sell"},{"d":"2002-08-29","c":"buy"},{"d":"2002-08-31","c":"sell"},{"d":"2002-09-03","c":"buy"},{"d":"2002-09-24","c":"sell"},{"d":"2002-10-16","c":"exit"},{"d":"2002-10-20","c":"sell"},{"d":"2002-12-04","c":"exit"},{"d":"2002-12-06","c":"sell"},{"d":"2002-12-24","c":"buy"},{"d":"2002-12-25","c":"sell"},{"d":"2002-12-28","c":"buy"},{"d":"2002-12-30","c":"sell"},{"d":"2002-12-31","c":"buy"},{"d":"2003-01-02","c":"sell"},{"d":"2003-01-10","c":"exit"},{"d":"2003-01-12","c":"sell"},{"d":"2003-01-20","c":"buy"},{"d":"2003-01-21","c":"sell"},{"d":"2003-01-23","c":"sell"},{"d":"2003-01-26","c":"buy"},{"d":"2003-01-27","c":"sell"},{"d":"2003-02-04","c":"sell"},{"d":"2003-02-26","c":"buy"},{"d":"2003-03-02","c":"sell"},{"d":"2003-04-11","c":"exit"},{"d":"2003-04-18","c":"sell"}
],
"rl":[
{"d":"2001-04-30","d2":"2003-05-25","v":90,"k":"solid"},{"d":"2001-04-30","d2":"2003-05-25","v":29,"k":"solid"},{"d":"2002-05-10","d2":"2003-05-25","v":10,"k":"solid"},{"d":"2002-05-10","d2":"2003-05-25","v":56,"k":"dash"},{"d":"2002-05-10","d2":"2003-05-25","v":48,"k":"dash"},{"d":"2002-05-10","d2":"2003-05-25","v":40,"k":"dash"},{"d":"2002-05-10","d2":"2003-05-25","v":34,"k":"dash"}
],
"rt":[
{"d":"2002-02-17","v":52,"t":"Relative Strength Index (43.9723)","k":"title","z":11},{"d":"2002-04-15","v":12,"t":"8%8","k":"blob","z":7}
],
"hl":[
{"d":"2001-04-30","d2":"2003-05-25","p":0.2207,"k":"solid"},{"d":"2001-04-30","d2":"2003-05-25","p":0.161,"k":"solid"},{"d":"2001-04-30","d2":"2003-05-25","p":0.363,"k":"dash"},{"d":"2002-03-01","d2":"2003-05-25","p":0.543,"k":"dash"},{"d":"2002-02-24","d2":"2003-05-25","p":0.477,"k":"dash"}
],
"notes":[
{"d":"2002-01-01","p":1.542,"t":"PTBVLPARAREDE (0.1800, 0.1800, 0.1700, 0.1700)","k":"title"},{"d":"2002-03-06","p":0.564,"t":"0,54","k":"level"},{"d":"2002-03-14","p":0.459,"t":"0,47","k":"level"},{"d":"2002-03-29","p":0.352,"t":"0,36","k":"level"}
],
"seg":[
{"d":"2001-07-11","d2":"2001-08-14","k":"hatch"},{"d":"2001-08-14","d2":"2001-09-24","k":"buy"},{"d":"2001-09-24","d2":"2001-10-15","k":"hatch"},{"d":"2001-10-15","d2":"2001-10-31","k":"exit"},{"d":"2001-11-02","d2":"2001-11-18","k":"exit"},{"d":"2001-11-21","d2":"2001-12-25","k":"hatch"},{"d":"2001-12-29","d2":"2002-01-06","k":"hatch"},{"d":"2002-01-06","d2":"2002-01-09","k":"buy"},{"d":"2002-01-09","d2":"2002-01-17","k":"hatch"},{"d":"2002-01-17","d2":"2002-01-21","k":"buy"},{"d":"2002-01-21","d2":"2002-01-31","k":"hatch"},{"d":"2002-01-31","d2":"2002-02-24","k":"buy"},{"d":"2002-02-27","d2":"2002-03-26","k":"hatch"},{"d":"2002-03-26","d2":"2002-04-07","k":"buy"},{"d":"2002-04-09","d2":"2002-04-13","k":"buy"},{"d":"2002-04-16","d2":"2002-05-17","k":"buy"},{"d":"2002-05-17","d2":"2002-06-14","k":"hatch"},{"d":"2002-06-14","d2":"2002-07-03","k":"buy"},{"d":"2002-07-03","d2":"2002-07-05","k":"hatch"},{"d":"2002-07-05","d2":"2002-07-20","k":"buy"},{"d":"2002-07-20","d2":"2002-07-25","k":"hatch"},{"d":"2002-07-25","d2":"2002-08-11","k":"buy"},{"d":"2002-08-14","d2":"2002-08-29","k":"hatch"},{"d":"2002-08-29","d2":"2002-09-24","k":"buy"},{"d":"2002-09-24","d2":"2002-10-16","k":"hatch"},{"d":"2002-10-16","d2":"2002-10-20","k":"exit"},{"d":"2002-10-20","d2":"2002-12-04","k":"hatch"},{"d":"2002-12-04","d2":"2002-12-06","k":"exit"},{"d":"2002-12-06","d2":"2002-12-24","k":"hatch"},{"d":"2002-12-25","d2":"2002-12-30","k":"hatch"},{"d":"2003-01-02","d2":"2003-01-10","k":"hatch"},{"d":"2003-01-10","d2":"2003-01-12","k":"exit"},{"d":"2003-01-12","d2":"2003-01-20","k":"hatch"},{"d":"2003-01-20","d2":"2003-02-04","k":"buy"},{"d":"2003-02-04","d2":"2003-02-26","k":"hatch"},{"d":"2003-02-26","d2":"2003-03-02","k":"buy"},{"d":"2003-03-02","d2":"2003-04-11","k":"hatch"},{"d":"2003-04-11","d2":"2003-04-18","k":"exit"},{"d":"2003-04-18","d2":"2003-05-08","k":"hatch"}
],
"blk":[
{"d":"2001-07-08"},{"d":"2001-07-11"},{"d":"2001-10-22"},{"d":"2001-12-25"},{"d":"2001-12-29"},{"d":"2002-02-24"},{"d":"2002-02-27"},{"d":"2002-03-28"},{"d":"2002-04-07"},{"d":"2002-07-13"},{"d":"2002-08-11"},{"d":"2002-08-31"},{"d":"2002-12-25"},{"d":"2002-12-30"},{"d":"2003-01-02"},{"d":"2003-01-21"},{"d":"2003-01-26"}
],
"ss":[
{"d":"2001-09-03","t":"+S+"},{"d":"2002-02-12","t":"+S+"},{"d":"2002-05-01","t":"+S+"}
]
},
"vconcat":[
{
"width":755,"height":21,
"encoding":{"x":{"field":"d","type":"temporal","scale":{"type":"utc","domain":[{"year":2001,"month":4,"date":30,"utc":true},{"year":2003,"month":5,"date":25,"utc":true}]},"axis":null}},
"layer":[
{"data":{"name":"sig"},"mark":{"type":"rule","strokeWidth":1.2},"encoding":{"color":{"field":"c","type":"nominal","scale":{"domain":["buy","sell","exit"],"range":["#ffff00","#ff0000","#c0c0c0"]},"legend":null}}},
{"data":{"name":"rl"},"mark":{"type":"rule","color":"#0000ff","strokeWidth":1},"encoding":{"x2":{"field":"d2"},"y":{"field":"v","type":"quantitative","scale":{"domain":[0,100],"nice":false,"zero":false},"axis":{"orient":"right","title":null,"grid":false,"values":[50],"tickSize":6,"labelAlign":"right","labelPadding":37,"labelFontSize":12,"labelFont":"Liberation Sans","labelColor":"black","domainColor":"black","tickColor":"black"}},"strokeDash":{"field":"k","type":"nominal","scale":{"domain":["solid","dash"],"range":[[1,0],[3,2]]},"legend":null}}},
{"data":{"name":"rsi"},"mark":{"type":"line","color":"#ff0000","strokeWidth":1},"encoding":{"y":{"field":"v","type":"quantitative"}}},
{"data":{"name":"rt"},"mark":{"type":"text","font":"Liberation Sans"},"encoding":{"y":{"field":"v","type":"quantitative"},"text":{"field":"t","type":"nominal"},"size":{"field":"z","type":"quantitative","scale":null},"color":{"field":"k","type":"nominal","scale":{"domain":["title","blob"],"range":["#000000","#0000ff"]},"legend":null},"align":{"field":"k","type":"nominal","scale":{"domain":["title","blob"],"range":["left","center"]},"legend":null}}}
],
"resolve":{"scale":{"color":"independent","strokeDash":"independent"}}
},
{
"width":755,"height":554,
"encoding":{"x":{"field":"d","type":"temporal","scale":{"type":"utc","domain":[{"year":2001,"month":4,"date":30,"utc":true},{"year":2003,"month":5,"date":25,"utc":true}]},"axis":{"orient":"top","domain":true,"domainColor":"black","ticks":false,"labels":false,"title":null,"grid":false}}},
"layer":[
{"data":{"name":"sig"},"mark":{"type":"rule","strokeWidth":1.2},"encoding":{"color":{"field":"c","type":"nominal","scale":{"domain":["buy","sell","exit"],"range":["#ffff00","#ff0000","#c0c0c0"]},"legend":null}}},
{"data":{"values":[{"d":"2001-05-01"}]},"mark":{"type":"rule","color":"black","strokeWidth":1}},
{"data":{"name":"px"},"mark":{"type":"rule","strokeWidth":2},"encoding":{"y":{"field":"l","type":"quantitative","scale":{"type":"log","domain":[0.1205,1.623],"nice":false,"zero":false},"axis":{"orient":"right","title":null,"grid":false,"values":[0.15,0.2,0.25,0.3,0.35,0.4,0.45,0.5,0.55,0.6,0.65,0.7,0.75,0.8,0.85,0.9,0.95,1.0,1.05,1.1,1.15,1.2,1.25,1.3,1.35,1.4,1.45,1.5,1.55,1.6],"labelExpr":"(abs(datum.value*10-round(datum.value*10))<0.001 && datum.value<1.55) ? format(datum.value,'.1f') : ''","tickSize":{"condition":{"test":"abs(datum.value*10-round(datum.value*10))<0.001 && datum.value<1.55","value":6},"value":3},"labelAlign":"right","labelPadding":39,"labelFontSize":12,"labelFont":"Liberation Sans","labelColor":"black","domainColor":"black","tickColor":"black","labelOverlap":false,"labelFlush":false,"labelBound":false}},"y2":{"field":"h"},"color":{"field":"c","type":"nominal","scale":{"domain":["u","d","n"],"range":["#0000ff","#ff0000","#000000"]},"legend":null}}},
{"data":{"name":"ma"},"mark":{"type":"line","strokeWidth":1},"encoding":{"y":{"field":"p","type":"quantitative"},"color":{"field":"s","type":"nominal","scale":{"domain":["MA200","MA50","MA21","MA10","MA5"],"range":["#000080","#ff0000","#008000","#0000ff","#0000ff"]},"legend":null}}},
{"data":{"name":"hl"},"mark":{"type":"rule","color":"#0000ff","strokeWidth":1},"encoding":{"x2":{"field":"d2"},"y":{"field":"p","type":"quantitative"},"strokeDash":{"field":"k","type":"nominal","scale":{"domain":["solid","dash"],"range":[[1,0],[4,3]]},"legend":null}}},
{"data":{"name":"notes"},"mark":{"type":"text","align":"left","fontSize":11,"font":"Liberation Sans"},"encoding":{"y":{"field":"p","type":"quantitative"},"text":{"field":"t","type":"nominal"},"color":{"field":"k","type":"nominal","scale":{"domain":["title","level"],"range":["#000000","#0000ff"]},"legend":null}}}
],
"resolve":{"scale":{"color":"independent","strokeDash":"independent"}}
},
{
"width":755,"height":67,
"encoding":{"x":{"field":"d","type":"temporal","scale":{"type":"utc","domain":[{"year":2001,"month":4,"date":30,"utc":true},{"year":2003,"month":5,"date":25,"utc":true}]},"axis":null}},
"layer":[
{"data":{"name":"sig"},"mark":{"type":"rule","strokeWidth":1.2},"encoding":{"color":{"field":"c","type":"nominal","scale":{"domain":["buy","sell","exit"],"range":["#ffff00","#ff0000","#c0c0c0"]},"legend":null}}},
{"data":{"values":[{"d":"2001-05-01"}]},"mark":{"type":"rule","color":"black","strokeWidth":1}},
{"data":{"name":"px"},"mark":{"type":"rule","color":"#0000ff","strokeWidth":3.5},"encoding":{"y":{"field":"v","type":"quantitative","scale":{"domain":[0,12900],"nice":false},"axis":{"orient":"right","title":null,"grid":false,"values":[3000,4000,5000,6000,7000,8000,9000,10000,11000,12000],"format":"d","labelExpr":"(datum.value==5000||datum.value==10000) ? datum.label : ''","tickSize":{"condition":{"test":"datum.value==5000||datum.value==10000","value":6},"value":3},"labelAlign":"right","labelPadding":39,"labelFontSize":12,"labelFont":"Liberation Sans","labelColor":"black","domainColor":"black","tickColor":"black","labelOverlap":false,"labelFlush":false,"labelBound":false}},"y2":{"datum":0}}}
]
},
{
"width":755,"height":17,
"encoding":{"x":{"field":"d","type":"temporal","scale":{"type":"utc","domain":[{"year":2001,"month":4,"date":30,"utc":true},{"year":2003,"month":5,"date":25,"utc":true}]},"axis":{"orient":"bottom","title":null,"grid":false,"domain":true,"domainColor":"black","ticks":true,"tickColor":"black","tickSize":14,"tickCount":{"interval":"month","step":1},"labelExpr":"(utcyear(datum.value)==2001 && utcmonth(datum.value)==4) ? '2001' : ((utcyear(datum.value)==2001 && utcmonth(datum.value)==5) ? '' : (utcmonth(datum.value)==0 ? utcFormat(datum.value,'%Y') : utcFormat(datum.value,'%b')))","labelAlign":"left","labelBaseline":"top","labelPadding":-12,"labelOffset":3,"labelFontSize":11,"labelFont":"Liberation Sans","labelColor":"black","labelOverlap":false,"labelFlush":false,"labelBound":false}}},
"layer":[
{"data":{"name":"seg"},"mark":{"type":"rect"},"encoding":{"x2":{"field":"d2"},"color":{"field":"k","type":"nominal","scale":{"domain":["hatch","buy","exit"],"range":["#ffa3a3","#ffff00","#c0c0c0"]},"legend":null}}},
{"data":{"name":"blk"},"mark":{"type":"rule","color":"black","strokeWidth":2}},
{"data":{"values":[{"d":"2001-05-01"}]},"mark":{"type":"rule","color":"black","strokeWidth":1}},
{"data":{"name":"ss"},"mark":{"type":"text","fontSize":11,"font":"Liberation Sans","color":"black"},"encoding":{"text":{"field":"t","type":"nominal"}}},
{"data":{"values":[{"d":"2003-06-16","t":"?"}]},"mark":{"type":"text","fontSize":11,"fontWeight":"bold","dy":16,"color":"black"},"encoding":{"text":{"field":"t","type":"nominal"}}}
]
}
]
}
